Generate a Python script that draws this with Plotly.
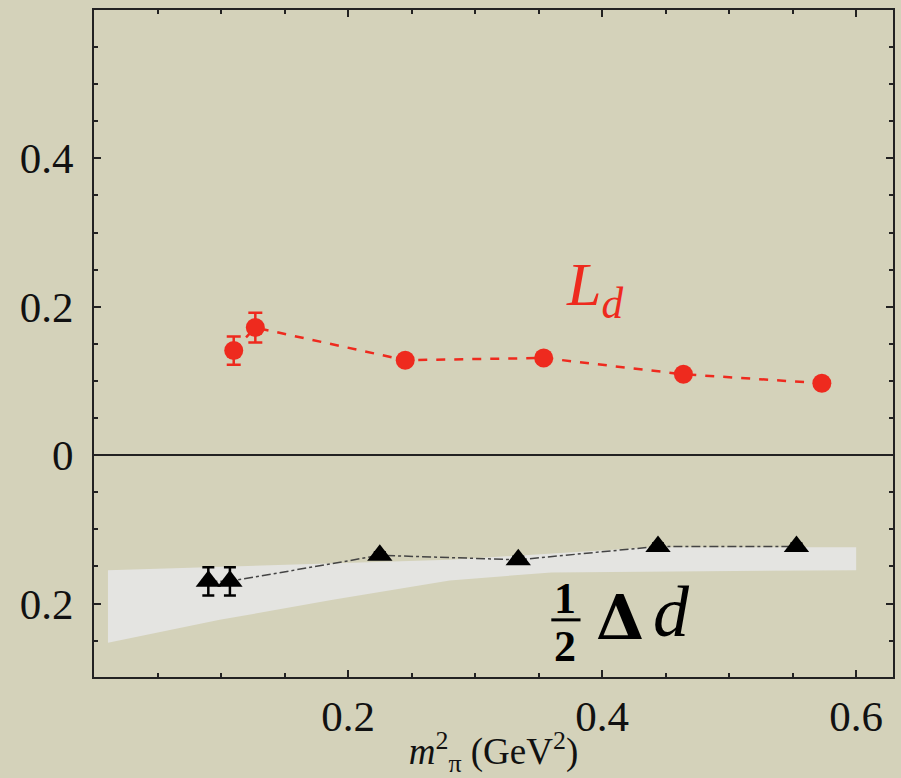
import plotly.graph_objects as go

# L_d (red)
ld_x = [0.110, 0.127, 0.245, 0.354, 0.464, 0.573]
ld_y = [0.141, 0.172, 0.128, 0.131, 0.109, 0.097]
ld_err = [0.019, 0.020, 0.006, 0.006, 0.005, 0.005]

# 1/2 Delta d (black)
dd_x = [0.090, 0.107, 0.225, 0.334, 0.444, 0.553]
dd_y = [-0.170, -0.170, -0.135, -0.141, -0.123, -0.123]
dd_err = [0.019, 0.019, 0.004, 0.004, 0.004, 0.004]

# grey band
band_top_x = [0.011, 0.28, 0.44, 0.60]
band_top_y = [-0.155, -0.141, -0.124, -0.124]
band_bot_x = [0.011, 0.099, 0.188, 0.28, 0.36, 0.60]
band_bot_y = [-0.253, -0.222, -0.195, -0.169, -0.158, -0.155]

x_ticks = [0.2, 0.4, 0.6]
x_ticktext = ["0.2", "0.4", "0.6"]
y_ticks = [-0.2, 0, 0.2, 0.4]
y_ticktext = ["0.2", "0", "0.2", "0.4"]

BG = "#d4d2ba"
SERIF = "Liberation Serif"
RED = "#ee2a1e"

fig = go.Figure()

fig.add_trace(go.Scatter(
    x=band_top_x + band_bot_x[::-1],
    y=band_top_y + band_bot_y[::-1],
    fill="toself", fillcolor="#e4e4e1", line=dict(width=0),
    mode="lines", hoverinfo="skip", showlegend=False))

fig.add_trace(go.Scatter(
    x=dd_x, y=dd_y, mode="lines+markers",
    line=dict(color="#444444", width=1.5, dash="dashdot"),
    marker=dict(symbol="triangle-up", size=22, color="black"),
    error_y=dict(type="data", array=dd_err, color="black", thickness=2.5, width=6),
    showlegend=False))

fig.add_trace(go.Scatter(
    x=ld_x, y=ld_y, mode="lines+markers",
    line=dict(color=RED, width=2.5, dash="dash"),
    marker=dict(symbol="circle", size=19, color=RED),
    error_y=dict(type="data", array=ld_err, color=RED, thickness=2.5, width=7),
    showlegend=False))

axis_common = dict(
    showgrid=False, showline=True, linecolor="#222222", linewidth=2,
    mirror="allticks", ticks="inside", ticklen=7, tickwidth=2, tickcolor="#222222",
    tickfont=dict(family=SERIF, size=43, color="#111111"),
    minor=dict(ticks="inside", ticklen=4, tickwidth=1.5, tickcolor="#222222", dtick=0.05),
    automargin=False,
)

fig.update_xaxes(range=[0, 0.629], tickvals=x_ticks, ticktext=x_ticktext,
                 zeroline=False, ticklabelstandoff=0,
                 title=dict(text="<i>m</i><sup>2</sup><sub>π</sub> (GeV<sup>2</sup>)",
                            font=dict(family=SERIF, size=37, color="#111111"), standoff=5),
                 **axis_common)
fig.update_yaxes(range=[-0.299, 0.6], tickvals=y_ticks, ticktext=y_ticktext,
                 zeroline=True, zerolinecolor="#222222", zerolinewidth=1.5,
                 ticklabelstandoff=10,
                 **axis_common)

fig.add_annotation(x=0.394, y=0.224, xref="x", yref="y", showarrow=False,
                   text="<i>L<sub>d</sub></i>",
                   font=dict(family=SERIF, size=62, color=RED))
fig.add_annotation(x=0.371, y=-0.193, xref="x", yref="y", showarrow=False,
                   text="<b>1</b>", font=dict(family=SERIF, size=44, color="black"))
fig.add_annotation(x=0.371, y=-0.258, xref="x", yref="y", showarrow=False,
                   text="<b>2</b>", font=dict(family=SERIF, size=44, color="black"))
fig.add_shape(type="line", x0=0.360, x1=0.383, y0=-0.222, y1=-0.222,
              xref="x", yref="y", line=dict(color="black", width=3))
fig.add_annotation(x=0.414, y=-0.219, xref="x", yref="y", showarrow=False,
                   text="<b>Δ</b>", font=dict(family="DejaVu Serif", size=62, color="black"))
fig.add_annotation(x=0.455, y=-0.211, xref="x", yref="y", showarrow=False,
                   text="<i>d</i>", font=dict(family=SERIF, size=72, color="black"))

fig.update_layout(
    width=901, height=778,
    margin=dict(l=94, r=8, t=10, b=101),
    paper_bgcolor=BG, plot_bgcolor=BG,
)

fig.write_html("out.html", config={"displayModeBar": False},
               post_script="document.body.style.margin='0';document.body.style.background='%s';" % BG)
